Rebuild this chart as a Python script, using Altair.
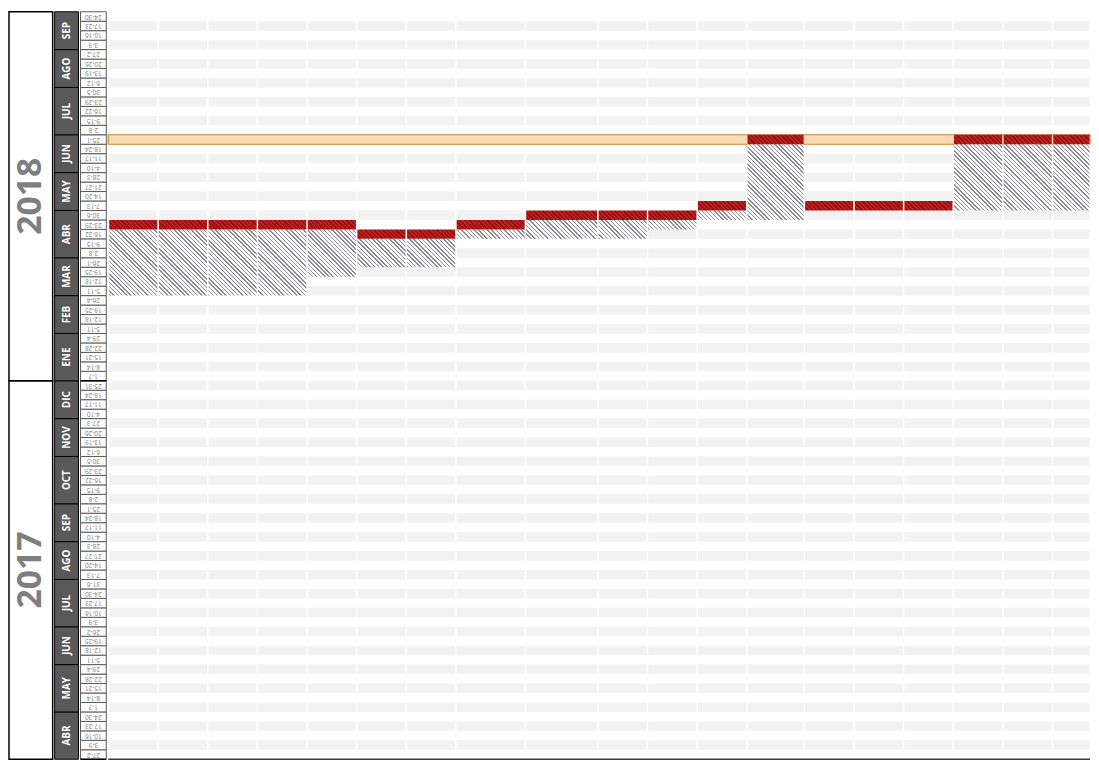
import math
import altair as alt
import pandas as pd

# ---------------- data ----------------
YEARS = ["2017", "2018"]
MONTHS_2017 = ["ABR", "MAY", "JUN", "JUL", "AGO", "SEP", "OCT", "NOV", "DIC"]
WEEKS_2017 = [
    ["27-2", "3-9", "10-16", "17-23", "24-30"],
    ["1-7", "8-14", "15-21", "22-28", "29-4"],
    ["5-11", "12-18", "19-25", "26-2"],
    ["3-9", "10-16", "17-23", "24-30", "31-6"],
    ["7-13", "14-20", "21-27", "28-3"],
    ["4-10", "11-17", "18-24", "25-1"],
    ["2-8", "9-15", "16-22", "23-29", "30-5"],
    ["6-12", "13-19", "20-26", "27-3"],
    ["4-10", "11-17", "18-24", "25-31"],
]
MONTHS_2018 = ["ENE", "FEB", "MAR", "ABR", "MAY", "JUN", "JUL", "AGO", "SEP"]
WEEKS_2018 = [
    ["1-7", "8-14", "15-21", "22-28", "29-4"],
    ["5-11", "12-18", "19-25", "26-4"],
    ["5-11", "12-18", "19-25", "26-1"],
    ["2-8", "9-15", "16-22", "23-29", "30-6"],
    ["7-13", "14-20", "21-27", "28-3"],
    ["4-10", "11-17", "18-24", "25-1"],
    ["2-8", "9-15", "16-22", "23-29", "30-5"],
    ["6-12", "13-19", "20-26", "27-2"],
    ["3-9", "10-16", "17-23", "24-30"],
]

# one column per update: estimated week (2018, red) and lowest hatched week
COLUMNS = list(range(1, 20))
ESTIMATE = ["ABR 23-29", "ABR 23-29", "ABR 23-29", "ABR 23-29", "ABR 23-29",
            "ABR 16-22", "ABR 16-22", "ABR 23-29", "ABR 30-6", "ABR 30-6",
            "ABR 30-6", "MAY 7-13", "JUN 25-1", "MAY 7-13", "MAY 7-13",
            "MAY 7-13", "JUN 25-1", "JUN 25-1", "JUN 25-1"]
HATCH_TO = ["MAR 5-11", "MAR 5-11", "MAR 5-11", "MAR 5-11", "MAR 19-25",
            "MAR 26-1", "MAR 26-1", "ABR 16-22", "ABR 16-22", "ABR 16-22",
            "ABR 23-29", "ABR 30-6", "ABR 30-6", None, None,
            None, "MAY 7-13", "MAY 7-13", "MAY 7-13"]
TARGET = "JUN 25-1"

# ---------------- layout / style ----------------
H = 753
COL_W = [50] * 7 + [70, 73] + [50] * 3 + [58] + [50] * 5 + [38]
GAP = 1.5
PLOT_W = 989
X_DOMAIN = [-1, PLOT_W - 1]
YEAR_W, MONTH_W, WEEK_W = 44, 24, 26
FONT = "Open Sans"

# ---------------- tables ----------------
weeks = []
i = 0
for year, months, wks in [("2017", MONTHS_2017, WEEKS_2017), ("2018", MONTHS_2018, WEEKS_2018)]:
    for m, lst in zip(months, wks):
        for w in lst:
            weeks.append(dict(year=year, month=m, label=w, key=f"{year} {m} {w}", y0=i, y1=i + 1, ym=i + 0.5))
            i += 1
N = i
ROW_H = H / N
weeks_df = pd.DataFrame(weeks)
idx = {w["key"]: w["y0"] for w in weeks}

month_df = (weeks_df.groupby(["year", "month"], sort=False)
            .agg(y0=("y0", "min"), y1=("y1", "max")).reset_index())
month_df["ym"] = (month_df.y0 + month_df.y1) / 2
year_df = weeks_df.groupby("year").agg(y0=("y0", "min"), y1=("y1", "max")).reset_index()
year_df["ym"] = (year_df.y0 + year_df.y1) / 2

starts = [sum(COL_W[:k]) for k in range(len(COL_W))]
cols = pd.DataFrame(dict(col=COLUMNS, x0=starts, w=COL_W))
cols["x1"] = cols.x0 + cols.w - GAP
cols["wpx"] = cols.w - GAP

stripes = []
for w in weeks:
    if w["y0"] % 2 == 1:
        for _, c in cols.iterrows():
            stripes.append(dict(x0=c.x0, x1=c.x1, y0=w["y0"], y1=w["y1"]))
stripes_df = pd.DataFrame(stripes)

red_rows, hatch_rows = [], []
for k, c in cols.iterrows():
    e = idx["2018 " + ESTIMATE[k]]
    red_rows.append(dict(x0=c.x0, x1=c.x1, y0=e, y1=e + 1, shape=f"{c.wpx}"))
    if HATCH_TO[k] is not None:
        b = idx["2018 " + HATCH_TO[k]]
        hatch_rows.append(dict(x0=c.x0, x1=c.x1, y0=b, y1=e, nrows=e - b, wpx=c.wpx,
                               shape=f"{c.wpx}x{e - b}"))
red_df = pd.DataFrame(red_rows)
hatch_df = pd.DataFrame(hatch_rows)
t = idx["2018 " + TARGET]
target_df = pd.DataFrame([dict(x0=X_DOMAIN[0], x1=X_DOMAIN[1], y0=t, y1=t + 1)])


def stripes_fill(w, h, c_line, c_bg, pitch, frac):
    r = h / w
    a = (1 + r) / (1 + r * r)
    b = -r * (1 + r) / (1 + r * r)
    n = max(1, round((w + h) / math.sqrt(2) / pitch))
    stops = []
    for s in range(n):
        o0, o1, o2 = s / n, (s + frac) / n, (s + 1) / n
        stops += [(c_line, o0), (c_line, o1), (c_bg, o1), (c_bg, o2)]
    return alt.LinearGradient(
        gradient="linear",
        stops=[alt.GradientStop(color=col, offset=round(min(o, 1.0), 5)) for col, o in stops],
        x1=0, y1=1, x2=round(a, 5), y2=round(1 + b, 5))


yscale = alt.Scale(domain=[0, N], nice=False, zero=False)
xscale = alt.Scale(domain=X_DOMAIN, nice=False, zero=False)


def enc_rect():
    return dict(x=alt.X("x0:Q", scale=xscale, axis=None), x2="x1:Q",
                y=alt.Y("y1:Q", scale=yscale, axis=None), y2="y0:Q")


# ---------------- plot panel ----------------
layers = [
    alt.Chart(stripes_df).mark_rect(fill="#f2f2f2").encode(**enc_rect()),
    alt.Chart(target_df).mark_rect(fill="#f9dab3", stroke="#c8872f", strokeWidth=1.2).encode(**enc_rect()),
]
for shape, g in hatch_df.groupby("shape"):
    w = float(g.wpx.iloc[0])
    h = float(g.nrows.iloc[0]) * ROW_H
    fill = stripes_fill(w, h, "#8d8892", "#ffffff", 3.0, 0.34)
    layers.append(alt.Chart(hatch_df).mark_rect(fill=fill)
                  .encode(**enc_rect())
                  .transform_filter(alt.FieldEqualPredicate(field="shape", equal=shape)))
for shape, g in red_df.groupby("shape"):
    w = float(shape)
    fill = stripes_fill(w, ROW_H, "#b52626", "#a20d0d", 3.2, 0.45)
    layers.append(alt.Chart(red_df).mark_rect(fill=fill)
                  .encode(**enc_rect())
                  .transform_filter(alt.FieldEqualPredicate(field="shape", equal=shape)))
layers.append(alt.Chart(year_df).mark_rule(color="#3a3a3a", strokeWidth=1.5)
              .encode(y=alt.Y("y0:Q", scale=yscale, axis=None), x=alt.value(0), x2=alt.value(PLOT_W))
              .transform_filter(alt.FieldEqualPredicate(field="year", equal="2017")))
plot = alt.layer(*layers).properties(width=PLOT_W, height=H)

# ---------------- left panels ----------------
year_chart = alt.layer(
    alt.Chart(year_df).mark_rect(fill="white", stroke="black", strokeWidth=1.5).encode(
        y=alt.Y("y1:Q", scale=yscale, axis=None), y2="y0:Q", x=alt.value(0), x2=alt.value(YEAR_W)),
    alt.Chart(year_df).mark_text(angle=270, font=FONT, fontSize=34, fontWeight="bold",
                                 color="#7f7f7f", align="center", baseline="middle").encode(
        y=alt.Y("ym:Q", scale=yscale, axis=None), x=alt.value(YEAR_W / 2), text="year:N"),
).properties(width=YEAR_W, height=H)

month_chart = alt.layer(
    alt.Chart(month_df).mark_rect(fill="#595959", stroke="black", strokeWidth=1).encode(
        y=alt.Y("y1:Q", scale=yscale, axis=None), y2="y0:Q", x=alt.value(0), x2=alt.value(MONTH_W)),
    alt.Chart(month_df).mark_text(angle=270, font=FONT, fontSize=10, fontWeight="bold",
                                  color="white", align="center", baseline="middle").encode(
        y=alt.Y("ym:Q", scale=yscale, axis=None), x=alt.value(MONTH_W / 2), text="month:N"),
).properties(width=MONTH_W, height=H)

week_chart = alt.layer(
    alt.Chart(weeks_df).mark_rect(fill="white", stroke="#595959", strokeWidth=1).encode(
        y=alt.Y("y1:Q", scale=yscale, axis=None), y2="y0:Q", x=alt.value(0), x2=alt.value(WEEK_W)),
    alt.Chart(weeks_df).mark_text(angle=180, font=FONT, fontSize=6.5,
                                  color="#7a7a7a", align="center", baseline="middle").encode(
        y=alt.Y("ym:Q", scale=yscale, axis=None), x=alt.value(WEEK_W / 2), text="label:N"),
    alt.Chart(year_df).mark_rule(color="black", strokeWidth=1.5).encode(
        y=alt.Y("y0:Q", scale=yscale, axis=None), x=alt.value(0), x2=alt.value(WEEK_W)),
).properties(width=WEEK_W, height=H)

chart = (alt.hconcat(year_chart, month_chart, week_chart, plot, spacing=0)
         .properties(padding=0)
         .configure(padding=0)
         .configure_view(stroke=None))

chart.save("out.html", embed_options={"renderer": "svg", "actions": False})
